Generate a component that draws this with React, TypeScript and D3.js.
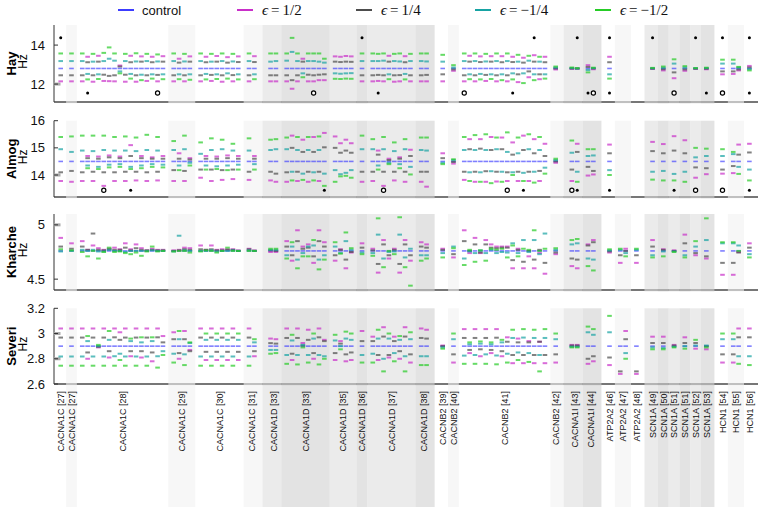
import React from 'react'
import * as d3 from 'd3'

const W = 758
const H = 507

// variant groups along the x axis: gene, reference, number of variants
const groupGenes = [
  'CACNA1C', 'CACNA1C', 'CACNA1C', 'CACNA1C', 'CACNA1C', 'CACNA1C',
  'CACNA1D', 'CACNA1D', 'CACNA1D', 'CACNA1D', 'CACNA1D', 'CACNA1D',
  'CACNB2', 'CACNB2', 'CACNB2', 'CACNB2',
  'CACNA1I', 'CACNA1I',
  'ATP2A2', 'ATP2A2', 'ATP2A2',
  'SCN1A', 'SCN1A', 'SCN1A', 'SCN1A', 'SCN1A', 'SCN1A',
  'HCN1', 'HCN1', 'HCN1',
]
const groupRefs = [27, 27, 28, 29, 30, 31, 33, 33, 35, 36, 37, 38, 39, 40, 41, 42, 43, 44, 46, 47, 48, 49, 50, 51, 51, 52, 53, 54, 55, 56]
const groupSizes = [1, 1, 16, 4, 8, 2, 2, 8, 4, 1, 8, 2, 1, 1, 16, 1, 2, 2, 1, 2, 1, 1, 1, 1, 1, 1, 1, 1, 2, 1]

// legend
const seriesLabels = ['control', 'ϵ = 1/2', 'ϵ = 1/4', 'ϵ = −1/4', 'ϵ = −1/2']
const seriesColors = ['#3c3cff', '#c92fc9', '#4d4d4d', '#17a3a3', '#26cc26']

// ---- Hay (Hz) ----
const hayControl = 12.8
const hayHalf = [
  12.14, 12.14, 12.14, 13.40, 12.12, 13.45, 12.16, 12.15, 12.14, 12.95, 12.12, 13.45, 12.12, 13.42, 12.16, 13.40, 12.14, 13.43,
  12.14, 13.30, 12.14, 13.42, 12.14, 13.40, 12.16, 13.44, 12.12, 13.38, 12.14, 13.42, 12.14, 13.43,
  12.14, 12.14, 12.14, 11.76, 12.14, 13.30, 12.14, 12.14, 12.20, 12.20, 13.42, 13.40, 13.44, 13.42, 12.14,
  12.14, 12.16, 12.14, 13.45, 12.12, 12.14, 13.43, 12.14, 12.14, 12.14,
  12.14, 12.68, 12.14, 13.45, 12.14, 13.42, 12.16, 13.43, 12.14, 13.43, 12.14, 13.40, 12.10, 13.35, 12.35, 13.48, 12.25, 13.40, 12.75,
  12.78, 12.80, 12.97, 12.76,
  13.40, null, null, null,
  12.78, 12.70, 12.30, 12.68, 12.78, 12.76,
  12.50, 12.52, 12.70, 12.93,
]
const hayQuarter = [
  12.45, 12.45, 12.45, 13.12, 12.45, 13.15, 12.48, 12.42, 12.45, 12.90, 12.48, 13.12, 12.45, 13.15, 12.45, 13.12, 12.47, 13.15,
  12.45, 13.10, 12.45, 13.15, 12.45, 13.12, 12.47, 13.15, 12.45, 13.10, 12.46, 13.13, 12.45, 13.13,
  12.45, 12.45, 12.45, 12.20, 12.45, 13.15, 12.48, 12.45, 12.48, 12.50, 13.15, 13.13, 13.15, 13.14, 12.45,
  12.45, 12.47, 12.45, 13.15, 12.45, 12.46, 13.12, 12.45, 12.45, 12.47,
  12.50, 12.75, 12.45, 13.15, 12.45, 13.13, 12.47, 13.15, 12.45, 13.12, 12.45, 13.13, 12.50, 13.10, 12.65, 13.15, 12.50, 13.12, 12.80,
  12.80, 12.79, 12.88, 12.80,
  13.12, null, null, null,
  12.79, 12.76, 12.60, 12.75, 12.79, 12.79,
  12.65, 12.65, 12.75, 12.85,
]
const hayNegQuarter = [
  13.18, 13.18, 13.18, 12.52, 13.15, 12.50, 13.18, 13.30, 13.20, 12.65, 13.18, 12.52, 13.16, 12.48, 13.18, 12.50, 13.16, 12.50,
  13.18, 12.50, 13.16, 12.50, 13.18, 12.52, 13.15, 12.50, 13.18, 12.55, 13.16, 12.50, 13.18, 12.50,
  13.15, 13.18, 13.20, 13.65, 13.18, 12.55, 13.18, 13.18, 13.15, 13.10, 12.55, 12.53, 12.55, 12.56, 13.18,
  13.18, 13.18, 13.20, 12.50, 13.18, 13.16, 12.52, 13.18, 13.18, 13.16,
  13.15, 12.85, 13.18, 12.50, 13.18, 12.52, 13.16, 12.50, 13.18, 12.50, 13.18, 12.55, 13.15, 12.55, 13.20, 12.50, 13.15, 12.50, 12.85,
  12.82, 12.80, 12.72, 12.82,
  12.50, null, null, null,
  12.81, 12.84, 13.05, 12.85, 12.81, 12.82,
  13.05, 13.05, 12.85, 12.76,
]
const hayNegHalf = [
  13.57, 13.57, 13.57, 12.24, 13.55, 12.26, 13.60, 13.88, 13.57, 12.55, 13.55, 12.28, 13.58, 12.20, 13.55, 12.28, 13.52, 12.25,
  13.57, 12.25, 13.55, 12.22, 13.57, 12.24, 13.55, 12.26, 13.57, 12.28, 13.55, 12.24, 13.57, 12.25,
  13.57, 13.57, 13.57, 14.37, 13.57, 12.35, 13.57, 13.57, 13.57, 13.30, 12.27, 12.26, 12.28, 12.27, 13.57,
  13.57, 13.55, 13.57, 12.25, 13.55, 13.57, 12.24, 13.55, 13.57, 13.57,
  13.50, 12.97, 13.57, 12.25, 13.57, 12.24, 13.55, 12.26, 13.57, 12.20, 13.57, 12.24, 13.50, 12.05, 13.45, 12.20, 13.40, 12.28, 12.90,
  12.85, 12.82, 12.60, 12.84,
  12.28, null, null, null,
  12.83, 12.90, 13.27, 12.92, 12.82, 12.84,
  13.25, 13.25, 12.88, 12.70,
]

// ---- Almog (Hz) ----
const almogControl = 14.5
const almogHalf = [
  13.78, 13.75, 13.78, 14.70, 13.78, 14.68, 13.60, 14.72, 13.78, 14.68, 13.78, 15.10, 13.80, 14.70, 13.78, 14.65, 13.80, 14.70,
  13.78, 14.80, 13.78, 14.62, 13.90, 14.70, 13.78, 14.68, 13.82, 14.72, 13.85, 14.70, 13.82, 14.70,
  13.80, 13.75, 13.75, 15.45, 13.78, 15.30, 13.75, 15.40, 13.78, 15.55, 15.42, 15.17, 15.30, 15.17, 13.75,
  13.78, 14.90, 13.60, 14.60, 13.80, 14.65, 13.75, 14.93, 13.75, 13.57,
  14.80, 14.42, 13.82, 15.32, 13.75, 15.32, 13.75, 15.40, 13.76, 15.38, 13.78, 15.20, 13.78, 15.45, 13.78, 15.32, 13.78, 15.15, 14.45,
  13.78, 15.15, 13.98, 14.02,
  15.12, null, null, null,
  15.22, 15.14, 15.43, 15.28, 13.90, 14.03,
  14.05, 14.07, 15.12, 15.15,
]
const almogQuarter = [
  14.10, 14.15, 14.10, 14.62, 14.12, 14.60, 14.10, 14.65, 14.10, 14.62, 14.12, 14.70, 14.12, 14.62, 14.10, 14.60, 14.12, 14.60,
  14.18, 14.60, 14.15, 14.57, 14.20, 14.60, 14.20, 14.60, 14.18, 14.62, 14.20, 14.60, 14.12, 14.60,
  14.12, 14.05, 14.10, 15.00, 14.12, 14.85, 14.12, 14.85, 14.12, 15.02, 15.00, 14.82, 14.90, 14.82, 14.12,
  14.12, 14.75, 14.12, 14.55, 14.12, 14.60, 14.12, 14.70, 14.12, 14.12,
  14.62, 14.48, 14.12, 14.95, 14.12, 14.97, 14.14, 14.92, 14.12, 14.95, 14.10, 14.75, 14.12, 14.92, 14.12, 14.80, 14.15, 14.70, 14.50,
  14.20, 14.85, 14.30, 14.15,
  14.80, null, null, null,
  14.88, 14.80, 14.90, 14.80, 14.28, 14.25,
  14.20, 14.33, 14.75, 14.83,
]
const almogNegQuarter = [
  14.95, 14.85, 14.90, 14.35, 14.88, 14.30, 14.92, 14.38, 14.90, 14.40, 14.90, 14.30, 14.88, 14.35, 14.92, 14.40, 14.90, 14.38,
  14.92, 14.35, 14.95, 14.45, 14.78, 14.35, 14.92, 14.32, 14.95, 14.35, 14.90, 14.38, 14.90, 14.40,
  14.92, 14.95, 14.95, 14.12, 14.92, 14.05, 14.92, 14.10, 14.92, 14.05, 14.18, 14.03, 14.08, 14.18, 14.95,
  14.95, 14.35, 14.95, 14.45, 14.88, 14.40, 14.95, 14.30, 14.92, 14.90,
  14.45, 14.55, 14.92, 14.10, 14.92, 14.10, 14.92, 14.14, 14.95, 14.12, 14.85, 14.10, 14.80, 14.08, 14.95, 14.12, 14.92, 14.27, 14.55,
  14.82, 14.12, 14.70, 14.72,
  14.18, null, null, null,
  14.12, 14.15, 14.04, 14.12, 14.65, 14.70,
  14.70, 14.77, 14.30, 14.20,
]
const almogNegHalf = [
  15.40, 15.42, 15.45, 14.25, 15.45, 14.22, 15.45, 14.28, 15.40, 14.30, 15.42, 14.22, 15.38, 14.25, 15.48, 14.30, 15.40, 14.28,
  15.25, 14.18, 15.45, 14.35, 15.20, 14.20, 15.35, 14.22, 15.30, 14.18, 15.15, 14.20, 15.35, 14.20,
  15.30, 15.32, 15.38, 13.80, 15.40, 13.82, 15.40, 13.80, 15.42, 13.60, 13.75, 13.95, 13.97, 13.90, 15.45,
  15.32, 14.20, 15.40, 14.40, 15.20, 14.25, 15.32, 14.02, 15.38, 15.38,
  14.40, 14.58, 15.40, 13.78, 15.47, 13.75, 15.50, 13.70, 15.38, 13.75, 15.57, 14.00, 15.38, 13.78, 15.50, 13.72, 15.40, 14.05, 14.60,
  15.27, 13.75, 14.95, 14.95,
  14.00, null, null, null,
  13.83, 13.80, 13.80, 13.75, 15.00, 14.97,
  14.95, 14.85, 14.04, 13.80,
]

// ---- Kharche (Hz) ----
const kharcheControl = 4.76
const kharcheHalf = [
  4.88, 4.83, 4.85, 4.77, 4.81, 4.785, 4.77, 4.78, 4.79, 4.775, 4.83, 4.775, 4.82, 4.785, 4.765, 4.78, 4.77, 4.77,
  4.765, 4.77, 4.79, 4.785, 4.81, 4.77, 4.81, 4.77, 4.775, 4.775, 4.775, 4.765, 4.78, 4.765,
  4.75, 4.75, 4.85, 4.67, 4.95, 4.80, 4.82, 4.65, 4.95, 4.84, 4.67, 4.775, 4.60, 4.745, 4.83,
  4.78, 4.56, 4.86, 4.69, 4.78, 4.56, 4.86, 4.67, 4.84, 4.82,
  4.78, 4.70, 4.95, 4.74, 4.88, 4.74, 4.86, 4.82, 4.80, 4.80, 4.80, 4.60, 4.78, 4.60, 4.71, 4.60, 4.74, 4.55, 4.73,
  4.62, 4.60, 4.82, 4.86,
  4.745, 4.65, 4.78, 4.65,
  4.86, 4.775, 4.765, 4.91, 4.72, 4.69,
  4.54, 4.54, 4.75, 4.83,
]
const kharcheQuarter = [
  4.80, 4.78, 4.80, 4.77, 4.92, 4.77, 4.765, 4.775, 4.77, 4.77, 4.79, 4.765, 4.785, 4.77, 4.765, 4.77, 4.765, 4.765,
  4.76, 4.765, 4.775, 4.77, 4.775, 4.77, 4.775, 4.765, 4.765, 4.77, 4.77, 4.76, 4.775, 4.76,
  4.765, 4.76, 4.80, 4.72, 4.85, 4.78, 4.79, 4.71, 4.85, 4.80, 4.72, 4.77, 4.68, 4.75, 4.79,
  4.765, 4.64, 4.82, 4.72, 4.77, 4.64, 4.82, 4.72, 4.80, 4.79,
  4.77, 4.73, 4.85, 4.76, 4.82, 4.745, 4.82, 4.79, 4.785, 4.79, 4.79, 4.675, 4.77, 4.66, 4.76, 4.68, 4.77, 4.65, 4.745,
  4.69, 4.68, 4.81, 4.84,
  4.755, 4.72, 4.76, 4.72,
  4.80, 4.77, 4.76, 4.83, 4.74, 4.71,
  4.65, 4.65, 4.745, 4.79,
]
const kharcheNegQuarter = [
  4.755, 4.76, 4.77, 4.76, 4.77, 4.755, 4.755, 4.77, 4.76, 4.76, 4.75, 4.76, 4.76, 4.76, 4.76, 4.765, 4.76, 4.76,
  4.755, 4.90, 4.765, 4.76, 4.76, 4.76, 4.765, 4.755, 4.76, 4.76, 4.765, 4.76, 4.765, 4.76,
  4.77, 4.77, 4.72, 4.80, 4.68, 4.74, 4.80, 4.81, 4.68, 4.72, 4.80, 4.74, 4.85, 4.77, 4.745,
  4.74, 4.91, 4.69, 4.75, 4.755, 4.91, 4.70, 4.78, 4.72, 4.72,
  4.74, 4.80, 4.69, 4.755, 4.74, 4.765, 4.74, 4.77, 4.74, 4.75, 4.745, 4.83, 4.74, 4.86, 4.75, 4.86, 4.73, 4.92, 4.77,
  4.82, 4.83, 4.69, 4.68,
  4.765, 4.77, 4.74, 4.77,
  4.72, 4.755, 4.755, 4.72, 4.80, 4.86,
  4.83, 4.83, 4.81, 4.73,
]
const kharcheNegHalf = [
  4.775, 4.765, 4.75, 4.71, 4.76, 4.69, 4.75, 4.79, 4.75, 4.755, 4.74, 4.73, 4.745, 4.715, 4.755, 4.80, 4.755, 4.76,
  4.755, 4.76, 4.76, 4.745, 4.755, 4.765, 4.76, 4.745, 4.76, 4.79, 4.76, 4.76, 4.76, 4.76,
  4.78, 4.78, 4.69, 4.84, 4.60, 4.71, 4.71, 4.86, 4.59, 4.68, 4.84, 4.735, 4.93, 4.785, 4.73,
  4.715, 5.06, 4.61, 4.76, 4.73, 5.07, 4.61, 4.44, 4.67, 4.69,
  4.70, 4.785, 4.63, 4.77, 4.66, 4.765, 4.67, 4.78, 4.77, 4.78, 4.70, 4.81, 4.71, 4.78, 4.77, 4.95, 4.76, 4.78, 4.785,
  4.86, 4.87, 4.62, 4.58,
  4.775, 4.78, 4.71, 4.78,
  4.70, 4.71, 4.75, 4.70, 4.85, 5.06,
  4.84, 4.84, 4.76, 4.70,
]

// ---- Severi (Hz) ----
const severiControl = 2.9
const severiHalf = [
  3.04, 3.04, 3.04, 2.80, 3.04, 2.89, 3.04, 2.81, 3.04, 3.01, 3.04, 2.82, 3.04, 2.81, 3.04, 2.78, 3.04, 2.98,
  3.01, 2.80, 3.02, 2.87, 3.04, 2.79, 3.04, 2.79, 3.04, 2.79, 3.04, 2.79, 3.04, 2.82,
  2.96, 2.955, 3.04, 2.79, 3.04, 2.925, 3.03, 2.80, 3.04, 2.95, 2.79, 2.94, 2.78, 2.79, 3.02,
  2.975, 2.79, 3.05, 2.81, 2.975, 2.80, 3.05, 2.77, 3.04, 3.03,
  2.905, 2.77, 3.035, 2.845, 3.035, 2.82, 3.035, 2.845, 3.035, 2.82, 2.97, 2.765, 2.96, 2.765, 2.94, 2.765, 2.935, 2.765, 2.77,
  2.91, 2.91, 2.76, 2.78,
  2.75, 2.68, 3.02, 2.68,
  2.975, 2.975, 2.91, 2.97, 2.88, 2.875,
  2.77, 2.77, 3.04, 3.04,
]
const severiQuarter = [
  2.968, 2.968, 2.968, 2.85, 2.968, 2.895, 2.968, 2.86, 2.97, 2.95, 2.968, 2.86, 2.968, 2.86, 2.968, 2.85, 2.97, 2.93,
  2.955, 2.845, 2.955, 2.86, 2.968, 2.855, 2.968, 2.855, 2.968, 2.855, 2.968, 2.855, 2.968, 2.86,
  2.924, 2.92, 2.965, 2.84, 2.965, 2.905, 2.95, 2.845, 2.97, 2.94, 2.845, 2.92, 2.835, 2.85, 2.94,
  2.94, 2.83, 2.976, 2.83, 2.94, 2.86, 2.976, 2.835, 2.965, 2.96,
  2.90, 2.835, 2.965, 2.87, 2.965, 2.875, 2.965, 2.87, 2.967, 2.86, 2.935, 2.83, 2.93, 2.83, 2.93, 2.83, 2.935, 2.83, 2.835,
  2.905, 2.905, 2.80, 2.82,
  2.81, 2.70, 2.955, 2.70,
  2.925, 2.925, 2.905, 2.925, 2.925, 2.90,
  2.835, 2.835, 2.97, 2.97,
]
const severiNegQuarter = [
  2.818, 2.818, 2.818, 2.94, 2.818, 2.90, 2.818, 2.95, 2.82, 2.84, 2.818, 2.94, 2.818, 2.93, 2.818, 2.94, 2.82, 2.86,
  2.84, 2.955, 2.835, 2.925, 2.818, 2.95, 2.818, 2.95, 2.818, 2.95, 2.818, 2.95, 2.818, 2.93,
  2.87, 2.87, 2.83, 2.945, 2.83, 2.91, 2.83, 2.96, 2.83, 2.82, 2.945, 2.90, 2.96, 2.95, 2.83,
  2.84, 2.96, 2.80, 2.96, 2.845, 2.95, 2.82, 2.955, 2.82, 2.82,
  2.89, 2.955, 2.825, 2.915, 2.83, 2.92, 2.835, 2.915, 2.826, 2.93, 2.84, 2.965, 2.85, 2.968, 2.845, 2.965, 2.83, 2.965, 2.955,
  2.895, 2.895, 3.01, 2.99,
  3.01, null, 2.845, null,
  2.89, 2.885, 2.895, 2.90, 2.905, 2.905,
  2.955, 2.955, 2.82, 2.82,
]
const severiNegHalf = [
  2.745, 2.745, 2.745, 2.98, 2.745, 2.91, 2.745, 3.02, 2.745, 2.79, 2.745, 2.96, 2.745, 2.97, 2.745, 2.97, 2.73, 2.83,
  2.77, 3.02, 2.75, 2.93, 2.745, 3.00, 2.745, 3.00, 2.745, 3.00, 2.745, 3.00, 2.745, 2.955,
  2.84, 2.845, 2.76, 2.99, 2.755, 2.89, 2.77, 3.00, 2.755, 2.80, 2.99, 2.875, 3.015, 3.00, 2.77,
  2.77, 3.03, 2.70, 3.00, 2.78, 2.98, 2.70, 3.01, 2.75, 2.75,
  2.88, 3.00, 2.76, 2.93, 2.76, 2.937, 2.76, 2.93, 2.756, 2.95, 2.77, 3.03, 2.79, 3.035, 2.775, 3.03, 2.70, 3.035, 3.00,
  2.89, 2.89, 3.055, 3.035,
  3.14, null, 2.80, null,
  2.875, 2.875, 2.89, 2.88, 2.95, 2.89,
  3.00, 3.00, 2.76, 2.75,
]

// markers (column indices) drawn as dots above / below the dashes
const hayDotsTopFilled = [0, 46, 72, 77, 80, 84, 88, 90, 93]
const hayDotsBottomFilled = [3, 48, 68, 78, 80, 89, 93]
const hayDotsBottomOpen = [16, 39, 59, 79, 86, 90]
const almogDotsBottomFilled = [11, 41, 70, 77, 80, 86, 93]
const almogDotsBottomOpen = [6, 49, 67, 76, 88, 90]

const hayTicks = [12, 14]
const almogTicks = [14, 15, 16]
const kharcheTicks = [4.5, 5]
const severiTicks = [2.6, 2.8, 3, 3.2]

const panels = [
  {
    name: 'Hay', control: hayControl, series: [hayHalf, hayQuarter, hayNegQuarter, hayNegHalf],
    domain: [11.08, 15.03], top: 25, bottom: 102, ticks: hayTicks, marks: [12],
    dots: [
      { cols: hayDotsTopFilled, at: 14.37, open: false },
      { cols: hayDotsBottomFilled, at: 11.54, open: false },
      { cols: hayDotsBottomOpen, at: 11.54, open: true },
    ],
  },
  {
    name: 'Almog', control: almogControl, series: [almogHalf, almogQuarter, almogNegQuarter, almogNegHalf],
    domain: [13.19, 16.0], top: 120.7, bottom: 197, ticks: almogTicks, marks: [14],
    dots: [
      { cols: almogDotsBottomFilled, at: 13.44, open: false },
      { cols: almogDotsBottomOpen, at: 13.44, open: true },
    ],
  },
  {
    name: 'Kharche', control: kharcheControl, series: [kharcheHalf, kharcheQuarter, kharcheNegQuarter, kharcheNegHalf],
    domain: [4.4, 5.1], top: 214, bottom: 290, ticks: kharcheTicks, marks: [5], dots: [],
  },
  {
    name: 'Severi', control: severiControl, series: [severiHalf, severiQuarter, severiNegQuarter, severiNegHalf],
    domain: [2.6, 3.2], top: 308.3, bottom: 384, ticks: severiTicks, marks: [3, 2.8], dots: [],
  },
]

// slot position of every variant column, 1 empty slot between refs, 2 between genes
const slots: number[] = []
const groupFirst: number[] = []
const groupLast: number[] = []
let lastSlot = 0
groupSizes.forEach((n, i) => {
  const first = i === 0 ? 0 : lastSlot + (groupGenes[i] === groupGenes[i - 1] ? 2 : 3)
  for (let k = 0; k < n; k++) slots.push(first + k)
  groupFirst.push(first)
  lastSlot = first + n - 1
  groupLast.push(lastSlot)
})

const x = d3.scaleLinear().domain([-1.25, 129.6]).range([54, 758])

const geneOrder = Array.from(new Set(groupGenes))
const bands = groupGenes.map((g, i) => {
  const geneIdx = geneOrder.indexOf(g)
  const within = groupGenes.slice(0, i).filter((d) => d === g).length
  const left = i === 0 ? -1.25 : (groupLast[i - 1] + groupFirst[i]) / 2
  const right = i === groupGenes.length - 1 ? 129.6 : (groupLast[i] + groupFirst[i + 1]) / 2
  let fill: string | null
  if (geneIdx % 2 === 0) fill = within % 2 === 0 ? null : '#f1f1f1'
  else fill = within % 2 === 0 ? '#dedede' : '#d1d1d1'
  return { x0: x(left), x1: x(right), fill, center: x((groupFirst[i] + groupLast[i]) / 2), label: `${g} [${groupRefs[i]}]` }
})

const sans = 'Liberation Sans, Arial, Helvetica, sans-serif'
const serif = 'Liberation Serif, Times New Roman, serif'

function Panel({ p }: { p: (typeof panels)[number] }) {
  const y = d3.scaleLinear().domain(p.domain).range([p.bottom, p.top])
  const half = 2.3
  const mid = (p.top + p.bottom) / 2
  return (
    <g>
      <line x1={54} x2={758} y1={p.bottom} y2={p.bottom} stroke="#777" strokeWidth={2} />
      {bands.map((b, i) =>
        b.fill ? (
          <rect key={i} x={b.x0} y={p.top} width={b.x1 - b.x0} height={p.bottom - p.top + 1.5} fill={b.fill} opacity={0.6} />
        ) : null,
      )}
      <line x1={54} x2={54} y1={p.top} y2={p.bottom} stroke="#333" strokeWidth={1} />
      {p.marks.map((m) => (
        <rect key={'m' + m} x={53.5} y={y(m) - 1.5} width={7} height={3} fill="#aaa" />
      ))}
      {p.ticks.map((t) => (
        <g key={t}>
          <line x1={54} x2={58} y1={y(t)} y2={y(t)} stroke="#333" strokeWidth={1} />
          <text x={45} y={y(t) + 4.5} textAnchor="end" fontSize={13} fontFamily={sans} fill="#111">
            {d3.format('~g')(t)}
          </text>
        </g>
      ))}
      <text transform={`translate(15.5,${mid}) rotate(-90)`} textAnchor="middle" fontSize={13} fontWeight="bold" fontFamily={sans} fill="#000">
        {p.name}
      </text>
      <text transform={`translate(26.5,${mid - 2}) rotate(-90)`} textAnchor="middle" fontSize={12} fontFamily={sans} fill="#000">
        Hz
      </text>
      {slots.map((s, c) => {
        const vals = p.series.map((arr) => arr[c])
        if (vals.every((v) => v == null)) return null
        const cx = x(s)
        return (
          <g key={c}>
            <line x1={cx - half} x2={cx + half} y1={y(p.control)} y2={y(p.control)} stroke={seriesColors[0]} strokeWidth={1.6} opacity={0.65} />
            {vals.map((v, j) =>
              v == null ? null : (
                <line key={j} x1={cx - half} x2={cx + half} y1={y(v)} y2={y(v)} stroke={seriesColors[j + 1]} strokeWidth={2} opacity={0.7} />
              ),
            )}
          </g>
        )
      })}
      {p.dots.map((d, k) =>
        d.cols.map((c) =>
          d.open ? (
            <circle key={k + '-' + c} cx={x(slots[c])} cy={y(d.at)} r={2.1} fill="#fff" stroke="#000" strokeWidth={1.2} />
          ) : (
            <circle key={k + '-' + c} cx={x(slots[c])} cy={y(d.at)} r={1.5} fill="#000" />
          ),
        ),
      )}
    </g>
  )
}

const legendX = [118, 237, 356, 475, 595]

export default function App() {
  return (
    <svg width={W} height={H} style={{ display: 'block', position: 'absolute', left: 0, top: 0, background: '#fff' }}>
      {/* legend */}
      {seriesLabels.map((l, i) => (
        <g key={l}>
          <line x1={legendX[i]} x2={legendX[i] + 16} y1={10} y2={10} stroke={seriesColors[i]} strokeWidth={2} />
          {i === 0 ? (
            <text x={legendX[i] + 24} y={14.5} fontSize={13} fontFamily={sans} fill="#111">
              {l}
            </text>
          ) : (
            <text x={legendX[i] + 25} y={15} fontSize={15} fontFamily={serif} fill="#111">
              <tspan fontStyle="italic">{l.slice(0, 1)}</tspan>
              {l.slice(1).replace(' = ', '\u2009=\u2009')}
            </text>
          )}
        </g>
      ))}
      {panels.map((p) => (
        <Panel key={p.name} p={p} />
      ))}
      {/* x labels area */}
      {bands.map((b, i) =>
        b.fill ? <rect key={'lb' + i} x={b.x0} y={385} width={b.x1 - b.x0} height={H - 385} fill={b.fill} opacity={0.6} /> : null,
      )}
      {bands.map((b, i) => (
        <text
          key={'lt' + i}
          transform={`translate(${b.center + 3.3},391) rotate(-90)`}
          textAnchor="end"
          fontSize={9}
          fontFamily={sans}
          fill="#111"
        >
          {b.label}
        </text>
      ))}
    </svg>
  )
}
